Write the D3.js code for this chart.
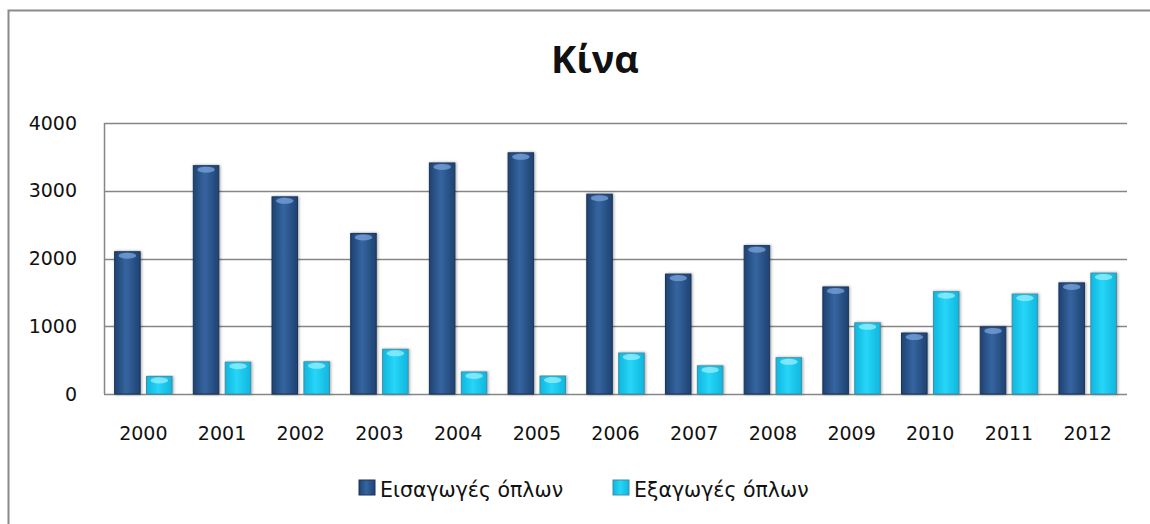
<!DOCTYPE html>
<html>
<head>
<meta charset="utf-8">
<title>Κίνα</title>
<script src="https://cdn.jsdelivr.net/npm/d3@7"></script>
<style>
  html, body { margin: 0; background: #fff; overflow: hidden; }
  svg { display: block; }
</style>
</head>
<body>
<script>
var years = ['2000','2001','2002','2003','2004','2005','2006','2007','2008','2009','2010','2011','2012'];
var imports = [2100, 3370, 2910, 2370, 3410, 3560, 2950, 1770, 2190, 1580, 900, 990, 1640];
var exports = [260, 470, 475, 660, 325, 265, 605, 415, 535, 1050, 1510, 1475, 1785];
var yTicks = [0, 1000, 2000, 3000, 4000];
var seriesNames = ['Εισαγωγές όπλων', 'Εξαγωγές όπλων'];

var w = 1150, h = 524;
var svg = d3.select('body').append('svg')
  .attr('width', w)
  .attr('height', h);

var defs = svg.append('defs');
function barGrad(id, edge, mid) {
  var g = defs.append('linearGradient').attr('id', id)
    .attr('x1', '0%').attr('x2', '100%').attr('y1', '0%').attr('y2', '0%');
  g.append('stop').attr('offset', '0%').attr('stop-color', edge);
  g.append('stop').attr('offset', '45%').attr('stop-color', mid);
  g.append('stop').attr('offset', '100%').attr('stop-color', edge);
}
barGrad('gImp', '#1f4272', '#3565a0');
barGrad('gExp', '#0fb6de', '#27d6f8');
var sh = defs.append('filter').attr('id', 'shadow')
  .attr('x', '-20%').attr('y', '-5%').attr('width', '140%').attr('height', '110%');
sh.append('feDropShadow').attr('dx', 1).attr('dy', 0).attr('stdDeviation', 1.5)
  .attr('flood-color', '#000').attr('flood-opacity', 0.35);

// outer frame: only the top and left edges are inside the picture
svg.append('path')
  .attr('d', 'M8.5,' + h + 'V10.5H' + w)
  .attr('fill', 'none').attr('stroke', '#8a8a8a').attr('stroke-width', 2);

// title
svg.append('text')
  .attr('x', 595).attr('y', 73)
  .attr('text-anchor', 'middle')
  .attr('font-size', '38px')
  .attr('font-weight', 'bold')
  .attr('font-family', '"Open Sans", sans-serif')
  .attr('fill', '#111')
  .text('Κίνα');

var plotL = 104, plotR = 1127, plotT = 123, plotB = 394;

var x = d3.scaleBand().domain(years).range([plotL, plotR])
  .paddingInner(0.27).paddingOuter(0.135);
var x1 = d3.scaleBand().domain([0, 1]).range([0, x.bandwidth()]).paddingInner(0.2);
var y = d3.scaleLinear().domain([0, 4000]).range([plotB, plotT]);

// gridlines
svg.append('g')
  .selectAll('line')
  .data(yTicks)
  .enter()
  .append('line')
  .attr('x1', plotL).attr('x2', plotR)
  .attr('y1', function(d){ return Math.round(y(d)) + 0.5; })
  .attr('y2', function(d){ return Math.round(y(d)) + 0.5; })
  .attr('stroke', '#868686').attr('stroke-width', 1.5);

// y axis line
svg.append('line')
  .attr('x1', plotL + 0.5).attr('x2', plotL + 0.5)
  .attr('y1', plotT).attr('y2', plotB)
  .attr('stroke', '#868686').attr('stroke-width', 1.5);

// y axis labels
var yAxis = svg.append('g')
  .attr('transform', 'translate(' + plotL + ',0)')
  .call(d3.axisLeft(y).tickValues(yTicks).tickSize(0).tickPadding(27).tickFormat(d3.format('d')));
yAxis.select('.domain').remove();
yAxis.selectAll('text')
  .attr('font-size', '19px')
  .attr('font-family', '"DejaVu Sans", sans-serif')
  .attr('fill', '#111');

// x axis labels
var xAxis = svg.append('g')
  .attr('transform', 'translate(0,' + plotB + ')')
  .call(d3.axisBottom(x).tickSize(0).tickPadding(33));
xAxis.select('.domain').remove();
xAxis.selectAll('text')
  .attr('font-size', '19px')
  .attr('font-family', '"DejaVu Sans", sans-serif')
  .attr('fill', '#111');

var data = years.map(function(yr, i){ return {year: yr, vals: [imports[i], exports[i]]}; });
var fills = ['url(#gImp)', 'url(#gExp)'];
var strokes = ['#1a3458', '#3f8fa6'];
var hilite = ['#7fa8e0', '#9ff2ff'];

var groups = svg.append('g')
  .selectAll('g')
  .data(data)
  .enter()
  .append('g')
  .attr('transform', function(d){ return 'translate(' + x(d.year) + ',0)'; });

groups.selectAll('rect.bar')
  .data(function(d){ return d.vals.map(function(v, k){ return {k: k, v: v}; }); })
  .enter()
  .append('rect')
  .attr('class', 'bar')
  .attr('x', function(d){ return x1(d.k); })
  .attr('y', function(d){ return y(d.v); })
  .attr('width', x1.bandwidth())
  .attr('height', function(d){ return plotB - y(d.v); })
  .attr('fill', function(d){ return fills[d.k]; })
  .attr('stroke', function(d){ return strokes[d.k]; })
  .attr('stroke-width', 1)
  .attr('filter', 'url(#shadow)');

// top highlight
groups.selectAll('ellipse')
  .data(function(d){ return d.vals.map(function(v, k){ return {k: k, v: v}; }); })
  .enter()
  .append('ellipse')
  .attr('cx', function(d){ return x1(d.k) + x1.bandwidth() / 2; })
  .attr('cy', function(d){ return y(d.v) + 4; })
  .attr('rx', x1.bandwidth() / 2 - 4)
  .attr('ry', 3)
  .attr('fill', function(d){ return hilite[d.k]; })
  .attr('opacity', 0.7);

// legend
var legendX = [359, 613];
var legend = svg.append('g')
  .selectAll('g')
  .data(seriesNames)
  .enter()
  .append('g')
  .attr('transform', function(d, i){ return 'translate(' + legendX[i] + ',480)'; });
legend.append('rect')
  .attr('width', 16).attr('height', 15)
  .attr('fill', function(d, i){ return fills[i]; })
  .attr('stroke', function(d, i){ return strokes[i]; });
legend.append('text')
  .attr('x', 21).attr('y', 17)
  .attr('font-size', '20.5px')
  .attr('font-family', '"DejaVu Sans", sans-serif')
  .attr('fill', '#111')
  .text(function(d){ return d; });
</script>
</body>
</html>
